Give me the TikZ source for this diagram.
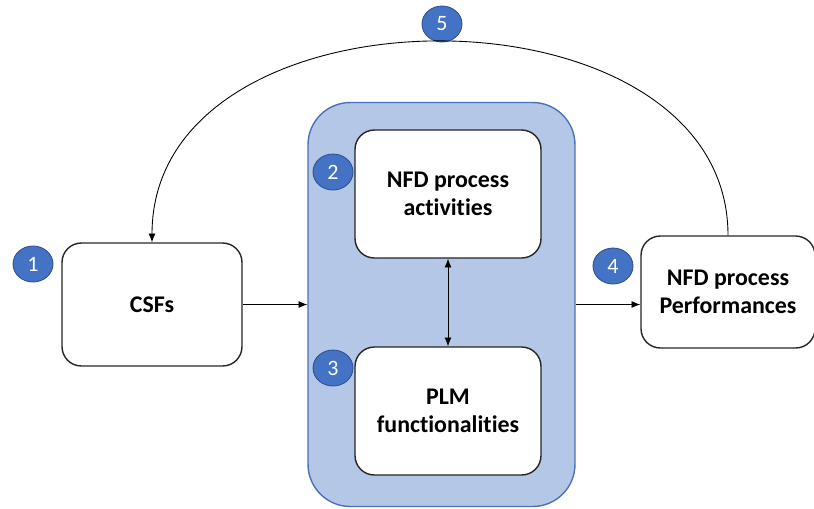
\documentclass[tikz,border=0pt]{standalone}
\usepackage{fontspec}
\setmainfont{Carlito}[Ligatures={NoCommon}]
\usetikzlibrary{shapes.geometric,arrows.meta}
\definecolor{panelblue}{HTML}{B4C7E7}
\definecolor{panelline}{HTML}{4A72B8}
\definecolor{badgeblue}{HTML}{4472C4}
\definecolor{badgeline}{HTML}{2F528F}

\begin{document}
\begin{tikzpicture}[x=0.02cm, y=-0.02cm,
  box/.style={draw=black!85, line width=.8pt, fill=white, rounded corners=11pt,
    align=center, inner sep=0pt, font=\fontsize{13.6}{15.6}\selectfont\bfseries},
  badge/.style={ellipse, fill=badgeblue, draw=badgeline, line width=.5pt,
    minimum width=.8cm, minimum height=.72cm, inner sep=0pt,
    text=white, font=\fontsize{12.5}{12.5}\selectfont},
  link/.style={line width=.5pt, -{Latex[length=5pt,width=4pt]}}]
  \useasboundingbox (0,0) rectangle (814,508);

  % container for activities and functionalities
  \node[draw=panelline, fill=panelblue, line width=.8pt, rounded corners=24pt,
    minimum width=5.34cm, minimum height=8.08cm] (cont) at (441.5,304.5) {};

  \node[box, minimum width=3.6cm, minimum height=2.46cm] (csf) at (152,304.5) {CSFs};
  \node[box, minimum width=3.72cm, minimum height=2.56cm] (act) at (448,194) {NFD process\\activities};
  \node[box, minimum width=3.72cm, minimum height=2.56cm] (plm) at (448,411) {PLM\\functionalities};
  \node[box, minimum width=3.48cm, minimum height=2.24cm] (perf) at (728,292) {NFD process\\Performances};

  \node[badge] (b1) at (33,264) {1};
  \node[badge] (b2) at (333,172) {2};
  \node[badge] (b3) at (333,368) {3};
  \node[badge] (b4) at (613,266) {4};
  \node[badge] (b5) at (442,24) {5};

  \draw[link] (csf.east) -- (csf.east -| cont.west);
  \draw[link] (csf.east -| cont.east) -- (csf.east -| perf.west);
  \draw[link, {Latex[length=5pt,width=4pt]}-{Latex[length=5pt,width=4pt]}] (act.south) -- (plm.north);
  \draw[link] (perf.north) .. controls +(0,-259) and +(0,-266) .. (csf.north);

\end{tikzpicture}
\end{document}
